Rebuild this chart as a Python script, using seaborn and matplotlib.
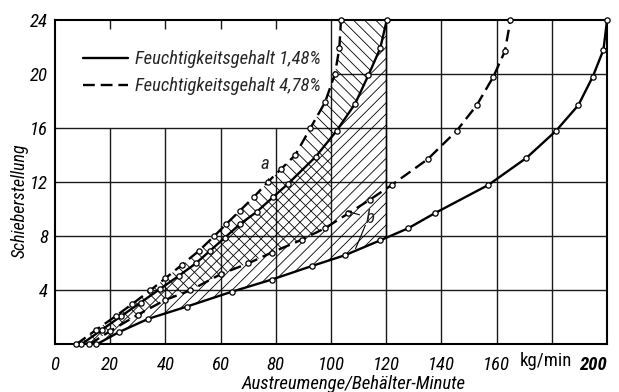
import numpy as np
import pandas as pd
import matplotlib
matplotlib.use("Agg")
import matplotlib.pyplot as plt
from matplotlib.lines import Line2D
from matplotlib.ticker import FixedLocator
import seaborn as sns

sns.set_theme(style="white")
plt.rcParams['font.family'] = ['Roboto Condensed', 'Liberation Sans Narrow', 'Roboto', 'DejaVu Sans']
plt.rcParams['hatch.linewidth'] = 0.6
plt.rcParams['hatch.color'] = 'black'

# ---- data (Austreumenge kg/min, Schieberstellung) ----
# 4.78 %  left curve (a)
dl_x = [7.6, 15, 22, 28, 34.5, 40, 46, 52, 57.6, 62, 67, 72, 77, 82, 87, 92.5, 97.8, 101.4, 103, 103.6]
dl_y = [0, 1.1, 2.1, 3.0, 4.0, 4.9, 5.9, 6.9, 8.0, 8.9, 9.9, 10.9, 12.0, 13.0, 14.0, 16.0, 17.9, 20.0, 21.9, 24.0]
# 1.48 %  left curve
sl_x = [9.5, 17, 24, 31, 38, 45, 51, 56, 61.5, 67, 73, 79, 84.5, 94.5, 102, 108.7, 113.5, 117.8, 120.2]
sl_y = [0, 1.1, 2.1, 3.1, 4.1, 5.1, 6.0, 6.9, 7.9, 8.9, 9.8, 10.9, 11.9, 13.9, 15.8, 17.8, 19.9, 21.9, 24.0]
# 4.78 %  right curve
dm_x = [12.4, 20, 30, 40, 49, 60, 70, 78.5, 89.4, 97.8, 106.3, 114, 122, 135, 145.5, 152.8, 158.8, 163, 165]
dm_y = [0, 1.0, 2.2, 3.3, 4.0, 5.2, 6.0, 6.8, 7.75, 8.6, 9.7, 10.7, 11.8, 13.7, 15.8, 17.7, 19.8, 21.7, 24.0]
# 1.48 %  right curve (b)
sr_x = [15, 23, 33.8, 47.7, 64, 78.5, 93, 105, 117.8, 128, 137.5, 157, 170.8, 181.5, 189.6, 194.8, 198.7, 200]
sr_y = [0, 0.9, 1.9, 2.8, 3.9, 4.8, 5.8, 6.6, 7.7, 8.6, 9.7, 11.8, 13.8, 15.8, 17.7, 19.8, 21.8, 24.0]

x_ticks = [0, 20, 40, 60, 80, 100, 120, 140, 160, 180, 200]
x_labels = ['0', '20', '40', '60', '80', '100', '120', '140', '160', '', '200']
unit_label = 'kg/min'
y_ticks = [4, 8, 12, 16, 20, 24]
legend_labels = ['Feuchtigkeitsgehalt 1,48%', 'Feuchtigkeitsgehalt 4,78%']

fig = plt.figure(figsize=(6.19, 3.92), dpi=100)
ax = fig.add_axes([0.0889, 0.1212, 0.8918, 0.8278])
ax.set_xlim(0, 200)
ax.set_ylim(0, 24)

# grid (omitted in the legend area)
for xv in x_ticks[1:-1]:
    top = 16 if xv < 100 else 24
    ax.vlines(xv, 0, top, color='#1a1a1a', lw=1.0, zorder=1)
for yv in y_ticks[:-1]:
    left = 100 if yv > 16 else 0
    ax.hlines(yv, left, 200, color='#1a1a1a', lw=1.0, zorder=1)
for xv in [20, 40, 60, 80]:
    ax.vlines(xv, 23.35, 24, color='#1a1a1a', lw=1.0, zorder=1)

# hatched regions
yy = np.linspace(0, 24, 600)
f_dl = np.interp(yy, dl_y, dl_x)
f_sl = np.interp(yy, sl_y, sl_x)
f_dm = np.interp(yy, dm_y, dm_x)
f_sr = np.interp(yy, sr_y, sr_x)
bound_a = np.where(f_sl > 100, f_sl, np.minimum(f_dm, 100))
ax.fill_betweenx(yy, f_dl, bound_a, where=bound_a >= f_dl, facecolor='none',
                 edgecolor='black', hatch='\\\\\\', linewidth=0, zorder=2)
bound_b = np.minimum(f_sr, 120)
ax.fill_betweenx(yy, f_sl, bound_b, where=bound_b >= f_sl, facecolor='none',
                 edgecolor='black', hatch='///', linewidth=0, zorder=2)
ax.vlines(120, np.interp(120, sr_x, sr_y), 24, color='black', lw=1.0, zorder=2)

# curves
common = dict(ax=ax, color='black', estimator=None, sort=False, marker='o',
              markersize=3.8, markerfacecolor='white', markeredgecolor='black',
              markeredgewidth=0.9, zorder=4, legend=False)
sns.lineplot(x=sl_x, y=sl_y, linewidth=1.7, **common)
sns.lineplot(x=sr_x, y=sr_y, linewidth=1.7, **common)
sns.lineplot(x=dl_x, y=dl_y, linewidth=1.7, linestyle=(0, (5, 2.5)), **common)
sns.lineplot(x=dm_x, y=dm_y, linewidth=1.7, linestyle=(0, (5, 2.5)), **common)
for l in ax.lines:
    l.set_clip_on(False)

# ticks
ax.set_xticks(x_ticks)
ax.set_xticklabels(x_labels)
ax.set_yticks(y_ticks)
ax.tick_params(axis='x', which='major', length=0, pad=8, labelsize=13.5)
ax.tick_params(axis='y', which='major', length=0, pad=5, labelsize=13.5)
for t in ax.get_xticklabels() + ax.get_yticklabels():
    t.set_fontstyle('italic')
    t.set_color('black')
xl = ax.get_xticklabels()
xl[10].set_horizontalalignment('right')
xl[10].set_fontweight('bold')
ax.text(178, -0.57, unit_label, transform=ax.transData, ha='center', va='top',
        fontsize=13.5, color='black')
ax.xaxis.set_minor_locator(FixedLocator(list(range(10, 200, 20))))
ax.yaxis.set_minor_locator(FixedLocator([2, 6, 10, 14, 18, 20, 22]))
ax.yaxis.remove_overlapping_locs = False
ax.tick_params(axis='both', which='minor', direction='in', length=12, width=1.0, color='black')

for s in ax.spines.values():
    s.set_visible(True)
    s.set_color('black')
    s.set_linewidth(1.5)

ax.set_xlabel('Austreumenge/Behälter-Minute', fontsize=13.5, fontstyle='italic', color='black')
ax.xaxis.set_label_coords(0.54, -0.095)
ax.set_ylabel('Schieberstellung', fontsize=13, fontstyle='italic', color='black')
ax.yaxis.set_label_coords(-0.048, 0.442)

# legend
handles = [Line2D([], [], color='black', lw=1.7),
           Line2D([], [], color='black', lw=1.7, linestyle=(0, (5, 2.5)))]
leg = ax.legend(handles, legend_labels, loc='upper left', bbox_to_anchor=(0.037, 0.93),
                frameon=False, fontsize=13.4, handlelength=2.4, handletextpad=0.38,
                labelspacing=0.5, borderaxespad=0)
for t in leg.get_texts():
    t.set_fontstyle('italic')

# annotations
ax.annotate('a', xy=(77.5, 12.1), xytext=(74.5, 13.0), fontsize=13.5, fontstyle='italic',
            arrowprops=dict(arrowstyle='-', color='black', lw=0.8), zorder=6)
ax.annotate('b', xy=(105, 9.9), xytext=(112.5, 9.0), fontsize=13.5, fontstyle='italic',
            arrowprops=dict(arrowstyle='-', color='black', lw=0.8), zorder=6)
ax.annotate('', xy=(108.5, 6.9), xytext=(112.8, 9.0),
            arrowprops=dict(arrowstyle='-', color='black', lw=0.8), zorder=6)

fig.savefig('out.png', dpi=100, facecolor='white')
